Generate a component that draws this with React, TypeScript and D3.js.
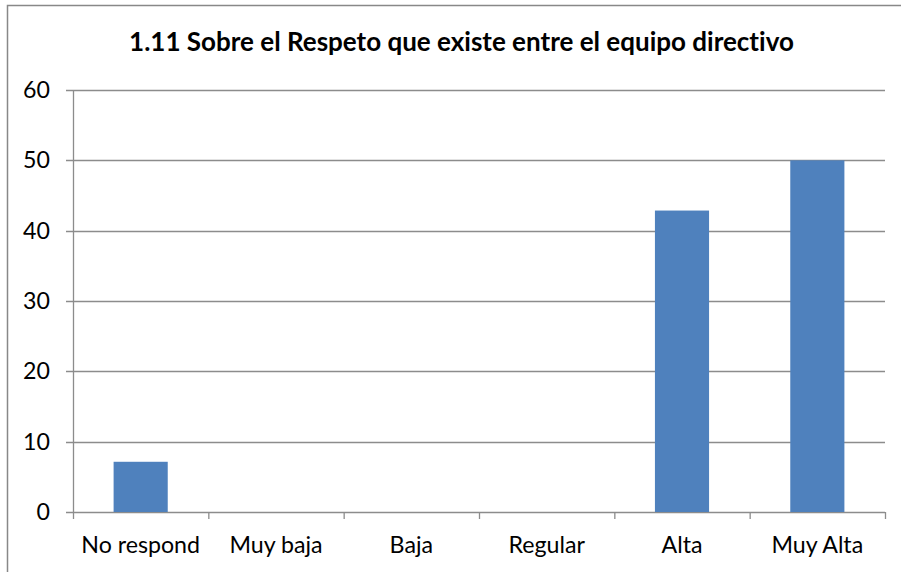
import React from "react";
import * as d3 from "d3";

const categories = ["No respond", "Muy baja", "Baja", "Regular", "Alta", "Muy Alta"];
const values = [7.14, 0, 0, 0, 42.86, 50];
const yTicks = [0, 10, 20, 30, 40, 50, 60];
const title = "1.11 Sobre el Respeto que existe entre el equipo directivo";

const W = 901;
const H = 572;
const left = 73;
const right = 885;
const top = 90;
const bottom = 512;
const font = "Lato, 'Open Sans', sans-serif";
const grid = "#8c8c8c";
const txtStyle = { fontVariantLigatures: "none" as const };

export default function App() {
  const x = d3.scaleBand<string>().domain(categories).range([left, right]).padding(0);
  const y = d3.scaleLinear().domain([0, 60]).range([bottom, top]);
  const bw = x.bandwidth() * 0.4;
  const edges = [...categories.map((c) => x(c) as number), right];

  return (
    <svg width={W} height={H} style={{ position: "absolute", left: 0, top: 0, background: "#fff" }}>
      <rect x={7.5} y={5.5} width={W + 20} height={H + 20} fill="#fff" stroke="#888" strokeWidth={1.5} />
      <text x={461.5} y={51} textAnchor="middle" fontFamily={font} fontWeight="bold" fontSize={26} fill="#000" style={txtStyle}>
        {title}
      </text>
      {yTicks.map((t) => (
        <g key={t}>
          <line x1={66} x2={right} y1={Math.round(y(t)) + 0.5} y2={Math.round(y(t)) + 0.5} stroke={grid} strokeWidth={1.3} />
          <text x={50} y={y(t)} dy="0.35em" textAnchor="end" fontFamily={font} fontSize={23.2} fill="#000" style={txtStyle}>
            {t}
          </text>
        </g>
      ))}
      <line x1={left + 0.5} x2={left + 0.5} y1={top} y2={bottom} stroke={grid} strokeWidth={1.3} />
      {edges.map((e, i) => (
        <line key={i} x1={e + 0.5} x2={e + 0.5} y1={bottom} y2={519} stroke={grid} strokeWidth={1.3} />
      ))}
      {categories.map((c, i) => (
        <g key={c}>
          {values[i] > 0 && (
            <rect
              x={(x(c) as number) + x.bandwidth() / 2 - bw / 2}
              y={y(values[i])}
              width={bw}
              height={y(0) - y(values[i])}
              fill="#4f81bd"
            />
          )}
          <text x={(x(c) as number) + x.bandwidth() / 2} y={553} textAnchor="middle" fontFamily={font} fontSize={23.2} fill="#000" style={txtStyle}>
            {c}
          </text>
        </g>
      ))}
    </svg>
  );
}
